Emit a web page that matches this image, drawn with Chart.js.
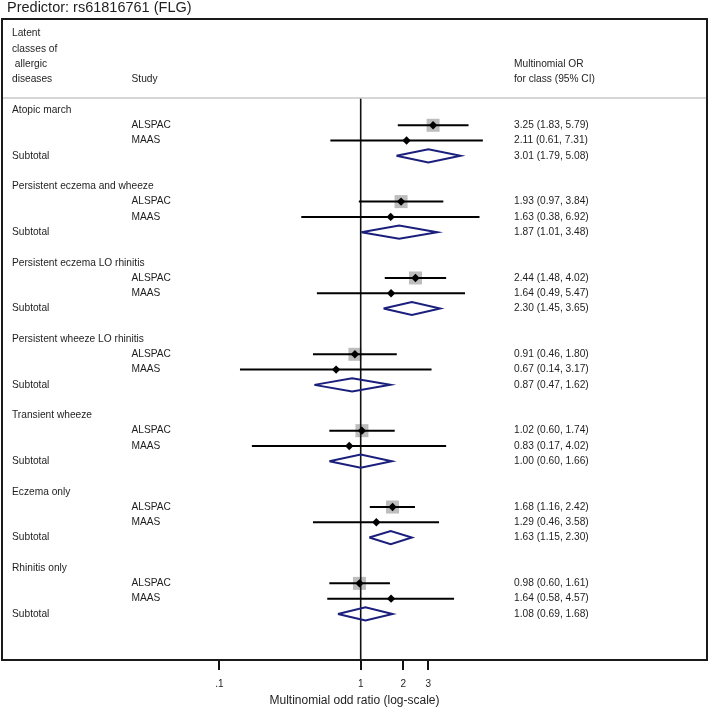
<!DOCTYPE html>
<html><head><meta charset="utf-8">
<script src="https://cdn.jsdelivr.net/npm/chart.js@4/dist/chart.umd.min.js"></script>
<style>html,body{margin:0;padding:0;background:#fff;}#wrap{width:709px;height:708px;}</style>
</head><body><div id="wrap"><canvas id="c" width="709" height="708"></canvas></div>
<script>
const titleText = "Predictor: rs61816761 (FLG)";
const headerLeft = ["Latent", "classes of", " allergic", "diseases"];
const headerStudy = "Study";
const headerRight = ["Multinomial OR", "for class (95% CI)"];
const axisTitle = "Multinomial odd ratio (log-scale)";
const groups = ["Atopic march", "Persistent eczema and wheeze", "Persistent eczema LO rhinitis",
  "Persistent wheeze LO rhinitis", "Transient wheeze", "Eczema only", "Rhinitis only"];
const studies = ["ALSPAC", "MAAS"];
const subtotalLabel = "Subtotal";
const alspacOR = [3.25, 1.93, 2.44, 0.91, 1.02, 1.68, 0.98];
const alspacLo = [1.83, 0.97, 1.48, 0.46, 0.60, 1.16, 0.60];
const alspacHi = [5.79, 3.84, 4.02, 1.80, 1.74, 2.42, 1.61];
const maasOR = [2.11, 1.63, 1.64, 0.67, 0.83, 1.29, 1.64];
const maasLo = [0.61, 0.38, 0.49, 0.14, 0.17, 0.46, 0.58];
const maasHi = [7.31, 6.92, 5.47, 3.17, 4.02, 3.58, 4.57];
const subOR = [3.01, 1.87, 2.30, 0.87, 1.00, 1.63, 1.08];
const subLo = [1.79, 1.01, 1.45, 0.47, 0.60, 1.15, 0.69];
const subHi = [5.08, 3.48, 3.65, 1.62, 1.66, 2.30, 1.68];
const alspacWeightBox = [13, 13, 13, 13, 13, 13, 13];
const maasWeightBox = [0, 0, 0, 0, 0, 0, 0];
const tickValues = [0.1, 1, 2, 3];
const tickLabels = [".1", "1", "2", "3"];
const refValue = 1;

// layout constants
const ROWS_PER_GROUP = 5;
const rowOf = (g, k) => g * ROWS_PER_GROUP + k;
const Y_MIN = -5.959, Y_MAX = 36.018, SEP_ROW = -0.79;
const X_MIN = Math.pow(10, (2 - 360.7) / 141.4), X_MAX = Math.pow(10, (707 - 360.7) / 141.4);
const DIAMOND_HALF = 0.43;
const NAVY = '#1b1f7c';
const INK = '#1e1e1e';
const FONT = "'Liberation Sans', Arial, sans-serif";

const fmt = (o, l, h) => o.toFixed(2) + " (" + l.toFixed(2) + ", " + h.toFixed(2) + ")";

const datasets = [];
// point markers
const markerPts = [];
groups.forEach((g, i) => {
  markerPts.push({x: alspacOR[i], y: rowOf(i, 1)});
  markerPts.push({x: maasOR[i], y: rowOf(i, 2)});
});
datasets.push({type: 'scatter', data: markerPts, pointStyle: 'rectRot', pointRadius: 4.2,
  backgroundColor: '#000', borderColor: '#000', borderWidth: 0, order: 0});
// CI lines
groups.forEach((g, i) => {
  [[alspacLo[i], alspacHi[i], 1], [maasLo[i], maasHi[i], 2]].forEach(([lo, hi, k]) => {
    datasets.push({type: 'scatter', showLine: true, data: [{x: lo, y: rowOf(i, k)}, {x: hi, y: rowOf(i, k)}],
      borderColor: '#000', borderWidth: 2, pointRadius: 0, order: 1});
  });
  const r = rowOf(i, 3);
  datasets.push({type: 'scatter', showLine: true, fill: false,
    data: [{x: subLo[i], y: r}, {x: subOR[i], y: r - DIAMOND_HALF}, {x: subHi[i], y: r},
           {x: subOR[i], y: r + DIAMOND_HALF}, {x: subLo[i], y: r}],
    borderColor: NAVY, borderWidth: 2, pointRadius: 0, borderJoinStyle: 'miter', order: 1});
});
// reference line
datasets.push({type: 'scatter', showLine: true, data: [{x: refValue, y: SEP_ROW}, {x: refValue, y: Y_MAX}],
  borderColor: '#111', borderWidth: 1.6, pointRadius: 0, order: 2});
// weight squares
const sqPts = [], sqR = [];
groups.forEach((g, i) => {
  sqPts.push({x: alspacOR[i], y: rowOf(i, 1)}); sqR.push(alspacWeightBox[i] / 2 / Math.SQRT1_2);
  sqPts.push({x: maasOR[i], y: rowOf(i, 2)}); sqR.push(maasWeightBox[i] / 2 / Math.SQRT1_2);
});
datasets.push({type: 'scatter', data: sqPts, pointStyle: 'rect', pointRadius: sqR,
  backgroundColor: '#bdbdbd', borderWidth: 0, order: 3});

const textPlugin = {
  id: 'forestText',
  afterDraw(chart) {
    const ctx = chart.ctx, y = chart.scales.y, ca = chart.chartArea;
    ctx.save();
    // separator
    const sy = y.getPixelForValue(SEP_ROW);
    ctx.strokeStyle = '#c8c8c8'; ctx.lineWidth = 1.5;
    ctx.beginPath(); ctx.moveTo(ca.left, sy); ctx.lineTo(ca.right, sy); ctx.stroke();
    // box
    ctx.strokeStyle = '#1a1a1a'; ctx.lineWidth = 2;
    ctx.strokeRect(ca.left, ca.top, ca.right - ca.left, ca.bottom - ca.top);
    // title
    ctx.fillStyle = INK; ctx.textBaseline = 'middle'; ctx.textAlign = 'left';
    ctx.font = "14.5px " + FONT;
    ctx.fillText(titleText, 7, 8);
    ctx.font = "10.2px " + FONT;
    const LX = 12, SX = 131.5, RX = 514;
    headerLeft.forEach((t, j) => ctx.fillText(t, LX, y.getPixelForValue(-5 + j)));
    ctx.fillText(headerStudy, SX, y.getPixelForValue(-2));
    headerRight.forEach((t, j) => ctx.fillText(t, RX, y.getPixelForValue(-3 + j)));
    groups.forEach((g, i) => {
      ctx.fillText(g, LX, y.getPixelForValue(rowOf(i, 0)));
      ctx.fillText(studies[0], SX, y.getPixelForValue(rowOf(i, 1)));
      ctx.fillText(studies[1], SX, y.getPixelForValue(rowOf(i, 2)));
      ctx.fillText(subtotalLabel, LX, y.getPixelForValue(rowOf(i, 3)));
      ctx.fillText(fmt(alspacOR[i], alspacLo[i], alspacHi[i]), RX, y.getPixelForValue(rowOf(i, 1)));
      ctx.fillText(fmt(maasOR[i], maasLo[i], maasHi[i]), RX, y.getPixelForValue(rowOf(i, 2)));
      ctx.fillText(fmt(subOR[i], subLo[i], subHi[i]), RX, y.getPixelForValue(rowOf(i, 3)));
    });
    ctx.restore();
  }
};

new Chart(document.getElementById('c'), {
  data: {datasets},
  options: {
    responsive: false, animation: false, devicePixelRatio: 1,
    layout: {autoPadding: false, padding: {top: 19, left: 2, right: 2, bottom: 0}},
    plugins: {legend: {display: false}, tooltip: {enabled: false}, title: {display: false}},
    scales: {
      x: {
        type: 'logarithmic', min: X_MIN, max: X_MAX, bounds: 'data', position: 'bottom',
        afterBuildTicks: s => { s.ticks = tickValues.map(v => ({value: v})); },
        afterFit: s => { s.height = 48; },
        ticks: {autoSkip: false, maxRotation: 0, padding: 8, color: INK,
          font: {family: FONT, size: 10},
          callback: (v) => tickLabels[tickValues.indexOf(v)]},
        grid: {drawOnChartArea: false, drawTicks: true, tickLength: 10, color: '#111', lineWidth: 2},
        border: {display: true, color: '#111', width: 2},
        title: {display: true, text: axisTitle, color: INK, font: {family: FONT, size: 12}, padding: {top: 0, bottom: 0}}
      },
      y: {type: 'linear', display: false, min: Y_MIN, max: Y_MAX, reverse: true}
    }
  },
  plugins: [textPlugin]
});
</script></body></html>
